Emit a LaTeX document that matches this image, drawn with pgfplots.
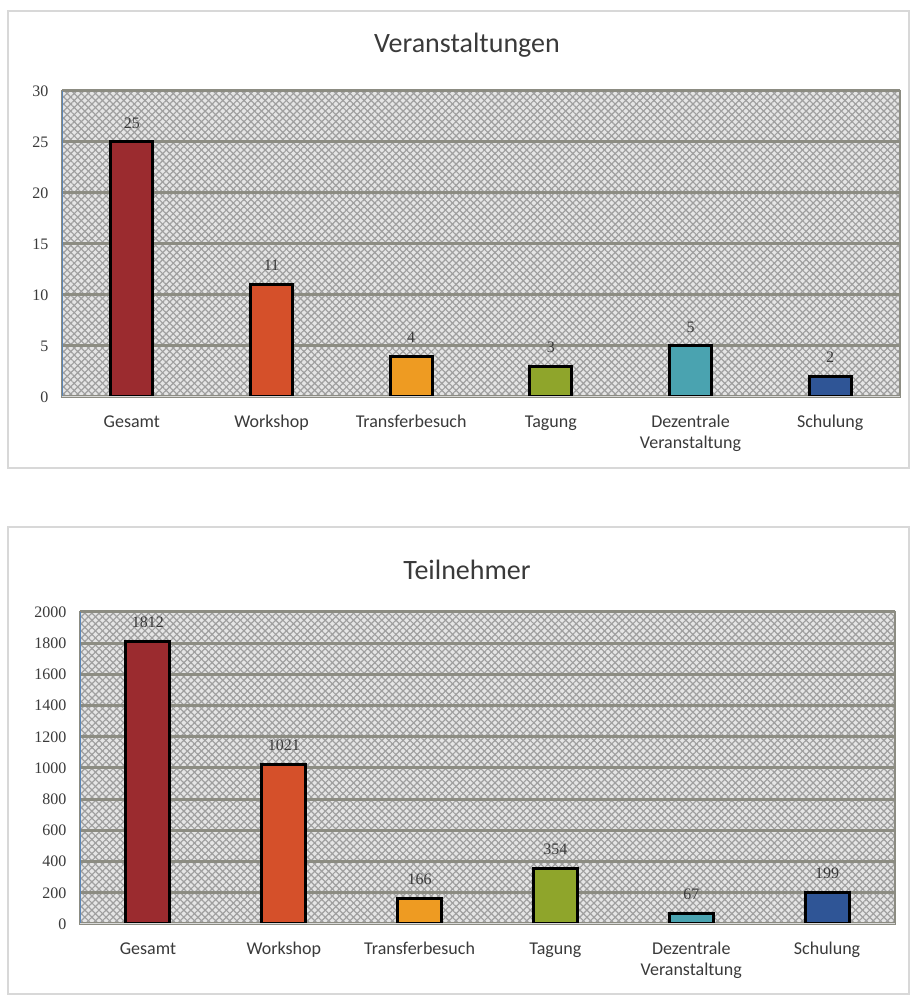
\documentclass[border=0pt]{standalone}
\usepackage{pgfplots}
\pgfplotsset{compat=1.18}
\usepackage{fontspec}
\setmainfont{Carlito}
\newfontfamily\numfont{Liberation Serif}
\usetikzlibrary{patterns.meta}
\definecolor{cGes}{HTML}{9B2B2F}
\definecolor{cWor}{HTML}{D5502A}
\definecolor{cTra}{HTML}{EE9B22}
\definecolor{cTag}{HTML}{8FA52B}
\definecolor{cDez}{HTML}{4AA3B0}
\definecolor{cSch}{HTML}{2F5596}
\definecolor{gridc}{HTML}{8C8C82}
\definecolor{axblue}{HTML}{5B86B8}
\definecolor{txt}{HTML}{3A3A3A}
\definecolor{frame}{HTML}{D8D8D8}
\pgfplotsset{
  mybars/.style={
    scale only axis,
    xmin=-0.5, xmax=5.5, ymin=0,
    xtick={0,...,5},
    xticklabels={\strut Gesamt,\strut Workshop,\strut Transferbesuch,\strut Tagung,{\strut Dezentrale\\\strut Veranstaltung},\strut Schulung},
    x tick label style={align=center, font=\fontsize{18}{21}\selectfont, text=txt, yshift=-12pt},
    y tick label style={font=\numfont\fontsize{16}{16}\selectfont, text=txt, xshift=-10pt},
    /pgf/number format/assume math mode=true,
    /pgf/number format/1000 sep={},
    major tick length=0pt,
    ymajorgrids, major grid style={line width=3pt, gridc},
    axis line style={line width=2.5pt, gridc},
    axis background/.style={preaction={fill=gray!20},
      pattern={Lines[angle=45,distance=5pt,line width=1.2pt]}, pattern color=gray!75,
      postaction={pattern={Lines[angle=-45,distance=5pt,line width=1.2pt]}, pattern color=gray!75}},
    ybar, bar shift=0pt,
    every axis plot/.append style={draw=black, line width=3pt},
    nodes near coords,
    every node near coord/.append style={font=\numfont\fontsize{16}{16}\selectfont, text=txt, yshift=9pt},
  }
}
\begin{document}
\begin{tikzpicture}
\useasboundingbox (0,0) rectangle (910pt,995pt);
\fill[white] (0,0) rectangle (910pt,995pt);
\draw[frame, line width=1.5pt] (8pt,527pt) rectangle (909pt,984pt);
\draw[frame, line width=1.5pt] (8pt,1pt) rectangle (909pt,468pt);
\node[font=\fontsize{28}{30}\selectfont, text=txt] at (467pt,950pt) {Veranstaltungen};
\node[font=\fontsize{28}{30}\selectfont, text=txt] at (467pt,425pt) {Teilnehmer};

\begin{axis}[mybars, at={(62pt,598pt)}, anchor=south west,
  width=838pt, height=306pt, ymax=30, ytick={0,5,...,30}, bar width=42pt]
\addplot[fill=cGes] coordinates {(0,25)};
\addplot[fill=cWor] coordinates {(1,11)};
\addplot[fill=cTra] coordinates {(2,4)};
\addplot[fill=cTag] coordinates {(3,3)};
\addplot[fill=cDez] coordinates {(4,5)};
\addplot[fill=cSch] coordinates {(5,2)};
\draw[axblue, line width=2.5pt] (rel axis cs:0,0) -- (rel axis cs:0,1);
\draw[gray!30, line width=2pt] (rel axis cs:0,0) -- (rel axis cs:1,0);
\end{axis}

\begin{axis}[mybars, at={(80pt,71pt)}, anchor=south west,
  width=815pt, height=312pt, ymax=2000, ytick={0,200,...,2000}, bar width=44pt]
\addplot[fill=cGes] coordinates {(0,1812)};
\addplot[fill=cWor] coordinates {(1,1021)};
\addplot[fill=cTra] coordinates {(2,166)};
\addplot[fill=cTag] coordinates {(3,354)};
\addplot[fill=cDez] coordinates {(4,67)};
\addplot[fill=cSch] coordinates {(5,199)};
\draw[axblue, line width=2.5pt] (rel axis cs:0,0) -- (rel axis cs:0,1);
\draw[gray!30, line width=2pt] (rel axis cs:0,0) -- (rel axis cs:1,0);
\end{axis}
\end{tikzpicture}
\end{document}
